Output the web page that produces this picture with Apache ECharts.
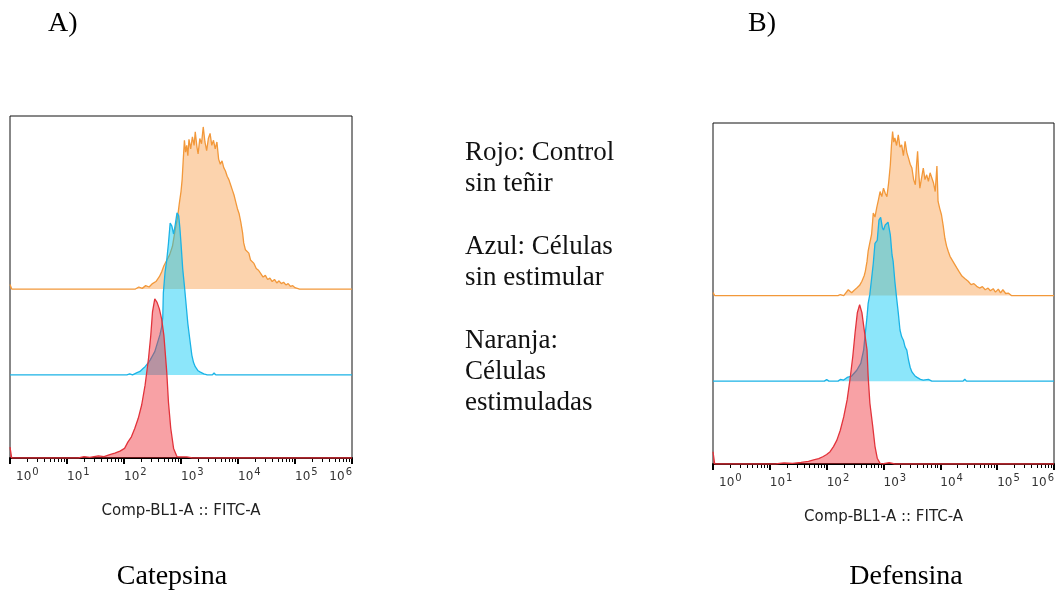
<!DOCTYPE html>
<html>
<head>
<meta charset="utf-8">
<title>Catepsina / Defensina – FITC</title>
<script src="https://cdn.jsdelivr.net/npm/echarts@6/dist/echarts.min.js"></script>
<style>
  html, body { margin: 0; padding: 0; background: #fff; }
  #chart { width: 1055px; height: 597px; }
</style>
</head>
<body>
<div id="chart"></div>
<script>
// Decades of the FITC axis (log10 of intensity) and their labels
const decades = [0, 1, 2, 3, 4, 5, 6];
const axisTitle = 'Comp-BL1-A :: FITC-A';
const panelLetters = ['A)', 'B)'];
const panelNames = ['Catepsina', 'Defensina'];
const legendLines = ['Rojo: Control', 'sin teñir', '', 'Azul: Células', 'sin estimular', '', 'Naranja:', 'Células', 'estimuladas'];

// Histograms: [log10 FITC-A, events as % of plot height]
const catepsinaControl = [
  [0, 3.2], [0.03, 0], [1.20, 0], [1.30, 0.4], [1.40, 0.2], [1.55, 0.6], [1.65, 0.4], [1.75, 1.0],
  [1.84, 1.4], [1.93, 2.0], [2.01, 2.8], [2.07, 4.7], [2.13, 6.2], [2.19, 8.7], [2.25, 11.6],
  [2.31, 15.5], [2.37, 21.3], [2.43, 29.1], [2.47, 35.9], [2.50, 42.7], [2.54, 46.5], [2.58, 45.5],
  [2.62, 43.6], [2.66, 40.7], [2.70, 35.8], [2.75, 25.1], [2.78, 16.3], [2.82, 8.7], [2.87, 2.8],
  [2.93, 0.4], [2.96, 0], [3.10, 0.3], [3.20, 0], [6, 0]
];
const catepsinaSinEstimular = [
  [0, 0], [2.05, 0], [2.10, 0.3], [2.15, 0], [2.22, 0.6], [2.28, 1.0], [2.33, 1.8], [2.37, 2.4],
  [2.42, 3.4], [2.46, 4.4], [2.50, 5.6], [2.54, 6.8], [2.58, 9.0], [2.63, 11.7], [2.66, 14.0],
  [2.68, 16.7], [2.69, 23.9], [2.72, 30.0], [2.75, 33.6], [2.78, 38.5], [2.81, 44.4], [2.84, 43.5],
  [2.87, 41.2], [2.90, 44.0], [2.93, 47.4], [2.96, 46.5], [2.98, 43.0], [3.00, 38.5], [3.03, 31.0],
  [3.06, 26.0], [3.09, 20.5], [3.12, 15.0], [3.15, 11.0], [3.19, 5.8], [3.22, 3.6], [3.25, 2.4],
  [3.30, 1.2], [3.34, 0.8], [3.40, 0.3], [3.46, 0], [3.55, 0], [3.58, 0.6], [3.61, 0], [6, 0]
];
const catepsinaEstimuladas = [
  [0, 1.3], [0.03, 0], [2.20, 0], [2.26, 0.6], [2.32, 0.2], [2.38, 1.0], [2.44, 0.6], [2.50, 1.6],
  [2.56, 2.2], [2.62, 3.6], [2.66, 5.0], [2.70, 6.8], [2.75, 8.4], [2.80, 10.0], [2.85, 12.5],
  [2.90, 17.5], [2.94, 21.0], [2.97, 25.0], [3.00, 28.5], [3.02, 32.0], [3.04, 38.0], [3.06, 43.5],
  [3.08, 40.0], [3.10, 42.0], [3.12, 39.0], [3.14, 43.8], [3.17, 41.0], [3.20, 44.5], [3.23, 42.0],
  [3.25, 46.0], [3.28, 41.5], [3.30, 39.5], [3.33, 44.0], [3.36, 42.5], [3.39, 47.4], [3.42, 43.0],
  [3.45, 40.5], [3.48, 44.0], [3.51, 45.5], [3.54, 42.0], [3.57, 43.5], [3.60, 41.0], [3.63, 43.0],
  [3.66, 38.0], [3.69, 36.5], [3.72, 37.5], [3.75, 35.5], [3.78, 34.5], [3.81, 33.0], [3.84, 32.0],
  [3.87, 30.5], [3.90, 29.0], [3.93, 27.5], [3.96, 25.5], [3.99, 23.5], [4.02, 22.0], [4.05, 19.5],
  [4.08, 16.5], [4.10, 13.5], [4.13, 11.5], [4.16, 11.0], [4.19, 10.5], [4.22, 8.5], [4.25, 8.0],
  [4.28, 7.5], [4.32, 6.0], [4.36, 5.5], [4.40, 4.5], [4.44, 3.5], [4.48, 4.0], [4.52, 2.8],
  [4.56, 3.2], [4.60, 2.2], [4.64, 2.8], [4.68, 1.8], [4.72, 2.4], [4.76, 1.6], [4.80, 2.0],
  [4.84, 1.2], [4.88, 1.6], [4.92, 0.8], [4.96, 1.0], [5.00, 0.4], [5.04, 0.2], [5.08, 0], [6, 0]
];
const defensinaControl = [
  [0, 3.6], [0.03, 0], [1.10, 0], [1.25, 0.3], [1.40, 0.2], [1.55, 0.5], [1.68, 0.8], [1.77, 1.2],
  [1.86, 1.6], [1.94, 2.2], [2.00, 2.8], [2.06, 3.6], [2.12, 5.1], [2.18, 7.0], [2.24, 9.9],
  [2.30, 13.8], [2.36, 18.8], [2.41, 24.7], [2.46, 31.6], [2.50, 38.5], [2.54, 44.4], [2.58, 46.7],
  [2.62, 44.4], [2.66, 39.4], [2.71, 33.5], [2.73, 25.7], [2.76, 17.9], [2.81, 11.1], [2.85, 5.2],
  [2.89, 1.7], [2.94, 0.2], [2.98, 0], [3.10, 0.4], [3.20, 0], [6, 0]
];
const defensinaSinEstimular = [
  [0, 0], [1.96, 0], [2.00, 0.5], [2.04, 0], [2.20, 0], [2.24, 0.5], [2.30, 0.3], [2.36, 1.1],
  [2.44, 1.5], [2.53, 3.2], [2.60, 5.2], [2.65, 9.1], [2.68, 14.0], [2.71, 18.9], [2.73, 22.8],
  [2.76, 25.5], [2.79, 30.0], [2.82, 34.5], [2.85, 40.4], [2.89, 41.3], [2.92, 47.2], [2.95, 48.0],
  [2.98, 45.0], [3.00, 44.3], [3.03, 45.8], [3.08, 46.6], [3.12, 42.9], [3.15, 37.0], [3.17, 35.1],
  [3.20, 29.2], [3.23, 24.5], [3.26, 20.0], [3.29, 15.0], [3.32, 13.0], [3.35, 12.0], [3.38, 10.0],
  [3.41, 9.1], [3.44, 6.2], [3.47, 4.0], [3.50, 2.7], [3.55, 1.6], [3.59, 1.1], [3.65, 0.5],
  [3.70, 0.3], [3.79, 0.5], [3.85, 0], [4.40, 0], [4.43, 0.6], [4.46, 0], [6, 0]
];
const defensinaEstimuladas = [
  [0, 0.9], [0.03, 0], [2.20, 0], [2.24, 0.3], [2.30, 0], [2.38, 1.7], [2.44, 0.8], [2.48, 1.5],
  [2.53, 2.2], [2.58, 3.0], [2.62, 4.2], [2.66, 5.8], [2.68, 7.1], [2.71, 10.0], [2.73, 13.0],
  [2.76, 15.5], [2.79, 17.9], [2.81, 22.0], [2.82, 24.2], [2.85, 23.0], [2.88, 25.7], [2.91, 28.0],
  [2.94, 30.5], [2.97, 29.0], [3.00, 31.5], [3.03, 30.0], [3.06, 29.0], [3.09, 33.0], [3.12, 38.3],
  [3.14, 44.0], [3.16, 48.1], [3.18, 45.0], [3.20, 46.2], [3.23, 44.0], [3.26, 47.1], [3.29, 43.5],
  [3.32, 44.2], [3.35, 41.0], [3.38, 45.2], [3.41, 42.0], [3.44, 40.3], [3.47, 38.5], [3.50, 37.4],
  [3.53, 34.0], [3.56, 32.5], [3.58, 38.0], [3.60, 42.3], [3.62, 36.0], [3.64, 31.5], [3.67, 34.5],
  [3.70, 37.4], [3.73, 34.0], [3.76, 35.4], [3.79, 33.5], [3.82, 36.0], [3.85, 35.9], [3.88, 33.0],
  [3.91, 30.5], [3.94, 38.0], [3.96, 27.6], [3.99, 25.5], [4.02, 23.7], [4.05, 20.5], [4.08, 16.8],
  [4.11, 14.5], [4.14, 12.9], [4.17, 11.5], [4.20, 11.0], [4.24, 9.5], [4.29, 8.1], [4.33, 7.0],
  [4.38, 5.7], [4.43, 5.0], [4.49, 4.2], [4.54, 3.2], [4.59, 3.5], [4.64, 2.7], [4.69, 2.2],
  [4.74, 2.6], [4.79, 1.7], [4.84, 2.2], [4.88, 1.4], [4.93, 2.0], [4.97, 1.0], [5.02, 1.9],
  [5.06, 0.8], [5.10, 1.7], [5.15, 0.6], [5.20, 0.7], [5.25, 0], [6, 0]
];

// Vertical offsets of the staggered overlay (same units as the y axis, 0..100)
const offsetControl = 0;
const offsetSinEstimular = 24.3;
const offsetEstimuladas = 49.4;

const colors = {
  orange: { line: '#f2983a', fill: 'rgba(248,150,60,0.42)' },
  blue:   { line: '#1bb3e6', fill: 'rgba(0,200,245,0.45)' },
  red:    { line: '#e2333b', fill: 'rgba(240,40,50,0.44)' }
};

// log-spaced minor ticks (2..9 within each decade)
const minorTicks = [];
for (let d = decades[0]; d < decades[decades.length - 1]; d++) {
  for (let k = 2; k <= 9; k++) minorTicks.push(d + Math.log10(k));
}

function trace(points, base, c, panel, z) {
  return {
    type: 'line',
    xAxisIndex: panel * 2,
    yAxisIndex: panel,
    data: points.map(p => [p[0], base + p[1]]),
    symbol: 'none',
    showSymbol: false,
    silent: true,
    z: z,
    lineStyle: { color: c.line, width: 1.3 },
    areaStyle: { color: c.fill, opacity: 1, origin: base }
  };
}

const grids = [
  { left: 10, top: 116, width: 342, height: 342 },
  { left: 713, top: 123, width: 341, height: 341 }
];

function majorAxis(gi) {
  return {
    type: 'value', gridIndex: gi, min: decades[0], max: decades[decades.length - 1], interval: 1,
    position: 'bottom',
    name: axisTitle, nameLocation: 'middle', nameGap: 46,
    nameTextStyle: { fontFamily: 'DejaVu Sans', fontSize: 15, color: '#222' },
    axisLine: { show: true, onZero: false, lineStyle: { color: '#000', width: 2 } },
    axisTick: { show: true, inside: false, length: 6, lineStyle: { color: '#000', width: 2 } },
    splitLine: { show: false },
    axisLabel: {
      show: true, margin: 9, align: 'left', alignMaxLabel: 'right',
      formatter: v => (v === decades[0] ? '{p|}' : '') + '{b|10}{s|' + v + '}',
      rich: {
        p: { width: 6 },
        b: { fontFamily: 'DejaVu Sans', fontSize: 12, color: '#333' },
        s: { fontFamily: 'DejaVu Sans', fontSize: 10, color: '#333', padding: [0, 0, 9, 1] }
      }
    }
  };
}
function minorAxis(gi) {
  return {
    type: 'value', gridIndex: gi, min: decades[0], max: decades[decades.length - 1],
    position: 'bottom',
    axisLine: { show: false, onZero: false },
    axisLabel: { show: false },
    splitLine: { show: false },
    axisTick: { show: true, inside: false, length: 4, customValues: minorTicks, lineStyle: { color: '#000', width: 1 } }
  };
}

const textFont = 'Liberation Serif';
const graphics = [
  { type: 'text', left: 48, top: 10, style: { text: panelLetters[0], font: '28px "' + textFont + '"', fill: '#000' } },
  { type: 'text', left: 748, top: 10, style: { text: panelLetters[1], font: '28px "' + textFont + '"', fill: '#000' } },
  { type: 'text', x: 172, y: 577, style: { text: panelNames[0], font: '28px "' + textFont + '"', fill: '#000', align: 'center', verticalAlign: 'middle' } },
  { type: 'text', x: 906, y: 577, style: { text: panelNames[1], font: '28px "' + textFont + '"', fill: '#000', align: 'center', verticalAlign: 'middle' } },
  { type: 'text', x: 465, y: 137, style: { text: legendLines.join('\n'), font: '27px "' + textFont + '"', lineHeight: 31.3, fill: '#111', align: 'left', verticalAlign: 'top' } }
];

const chart = echarts.init(document.getElementById('chart'), null, { renderer: 'canvas' });
chart.setOption({
  animation: false,
  backgroundColor: '#fff',
  grid: grids.map(g => Object.assign({ show: true, borderColor: '#111', borderWidth: 1, backgroundColor: 'transparent', containLabel: false, outerBoundsMode: 'none' }, g)),
  xAxis: [majorAxis(0), minorAxis(0), majorAxis(1), minorAxis(1)],
  yAxis: [0, 1].map(gi => ({ type: 'value', gridIndex: gi, min: 0, max: 100, show: false })),
  series: [
    trace(catepsinaEstimuladas, offsetEstimuladas, colors.orange, 0, 2),
    trace(catepsinaSinEstimular, offsetSinEstimular, colors.blue, 0, 3),
    trace(catepsinaControl, offsetControl, colors.red, 0, 4),
    trace(defensinaEstimuladas, offsetEstimuladas, colors.orange, 1, 2),
    trace(defensinaSinEstimular, offsetSinEstimular, colors.blue, 1, 3),
    trace(defensinaControl, offsetControl, colors.red, 1, 4)
  ],
  graphic: graphics
});
</script>
</body>
</html>
